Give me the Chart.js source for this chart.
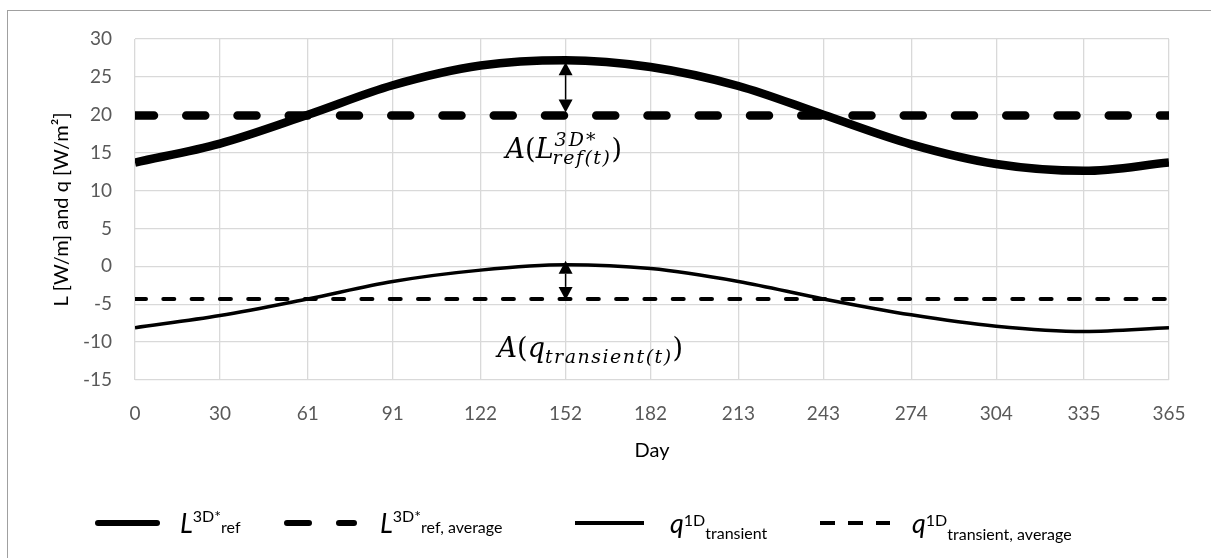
<!DOCTYPE html>
<html>
<head>
<meta charset="utf-8">
<script src="https://cdn.jsdelivr.net/npm/chart.js@4.4.0/dist/chart.umd.min.js"></script>
<style>
    html, body { margin: 0; padding: 0; background: #fff; }
    #wrap { width: 1211px; height: 558px; position: relative; }
</style>
</head>
<body>
<div id="wrap"><canvas id="chart" width="1211" height="558"></canvas></div>
<script>
// values
const days = [0, 30, 61, 91, 122, 152, 182, 213, 243, 274, 304, 335, 365];
const lRef = [13.7, 16.2, 20.0, 23.9, 26.5, 27.2, 26.3, 23.8, 20.0, 16.1, 13.5, 12.6, 13.7];
const qTransient = [-8.1, -6.5, -4.3, -2.0, -0.5, 0.2, -0.3, -2.0, -4.3, -6.4, -7.9, -8.6, -8.1];
const lRefAverage = [19.9, 19.9];
const qTransientAverage = [-4.3, -4.3];
const averageDays = [0, 365];
const amplitudeDay = 152;

const tickFont = { family: 'Lato', size: 19 };
const titleFont = { family: 'Lato', size: 20 };

function toPoints(xs, ys) {
    return xs.map((x, i) => ({ x: x, y: ys[i] }));
}

function drawRich(ctx, x, y, parts) {
    parts.forEach(p => {
        ctx.font = p.font;
        ctx.letterSpacing = p.spacing || '0px';
        ctx.fillText(p.text, x, y + (p.dy || 0));
        x += ctx.measureText(p.text).width;
    });
    ctx.letterSpacing = '0px';
    return x;
}

function drawDoubleArrow(ctx, x, top, bottom) {
    const head = 13, half = 7;
    ctx.save();
    ctx.strokeStyle = '#000';
    ctx.fillStyle = '#000';
    ctx.lineWidth = 1.5;
    ctx.beginPath();
    ctx.moveTo(x, top + head);
    ctx.lineTo(x, bottom - head);
    ctx.stroke();
    ctx.beginPath();
    ctx.moveTo(x, top);
    ctx.lineTo(x - half, top + head);
    ctx.lineTo(x + half, top + head);
    ctx.closePath();
    ctx.fill();
    ctx.beginPath();
    ctx.moveTo(x, bottom);
    ctx.lineTo(x - half, bottom - head);
    ctx.lineTo(x + half, bottom - head);
    ctx.closePath();
    ctx.fill();
    ctx.restore();
}

const extras = {
    id: 'extras',
    beforeDraw(chart) {
        const ctx = chart.ctx;
        ctx.save();
        ctx.strokeStyle = '#a0a0a0';
        ctx.lineWidth = 1;
        ctx.strokeRect(7.5, 10.5, 1300, 700);
        ctx.restore();
    },
    afterDraw(chart) {
        const ctx = chart.ctx;
        const xs = chart.scales.x, ys = chart.scales.y;
        const i = days.indexOf(amplitudeDay);
        const ax = xs.getPixelForValue(amplitudeDay);

        // amplitude arrows
        drawDoubleArrow(ctx, ax, ys.getPixelForValue(lRef[i]) + 2, ys.getPixelForValue(lRefAverage[0]) - 3);
        drawDoubleArrow(ctx, ax, ys.getPixelForValue(qTransient[i]) - 4, ys.getPixelForValue(qTransientAverage[0]) + 1);

        ctx.save();
        ctx.fillStyle = '#000';
        ctx.textBaseline = 'alphabetic';
        const big = 'italic 27px "DejaVu Serif"';
        const small = 'italic 19px "DejaVu Serif"';
        const up = '27px "DejaVu Serif"';
        let ly = ys.getPixelForValue(lRefAverage[0]) + 42;
        let x = drawRich(ctx, ax - 60, ly, [
            { text: 'A', font: big }, { text: '(', font: up }, { text: 'L', font: big }
        ]);
        const sx = x;
        const e1 = drawRich(ctx, sx + 1, ly - 12, [{ text: '3D*', font: small, spacing: '2px' }]);
        const e2 = drawRich(ctx, sx - 1, ly + 6, [{ text: 'ref(t)', font: small, spacing: '1.5px' }]);
        drawRich(ctx, Math.max(e1, e2), ly, [{ text: ')', font: up }]);

        let qy = ys.getPixelForValue(qTransientAverage[0]) + 58;
        x = drawRich(ctx, ax - 68, qy, [
            { text: 'A', font: big }, { text: '(', font: up }, { text: 'q', font: big },
            { text: 'transient(t)', font: small, dy: 6, spacing: '1.5px' }
        ]);
        drawRich(ctx, x, qy, [{ text: ')', font: up }]);
        ctx.restore();

        // legend
        ctx.save();
        ctx.strokeStyle = '#000';
        ctx.fillStyle = '#000';
        const ly2 = 523;
        const sample = (x1, x2, w, dash, cap) => {
            ctx.lineWidth = w;
            ctx.lineCap = cap;
            ctx.setLineDash(dash);
            ctx.beginPath();
            ctx.moveTo(x1, ly2);
            ctx.lineTo(x2, ly2);
            ctx.stroke();
        };
        sample(98, 157, 6, [], 'round');
        sample(287, 354, 6, [22, 30], 'round');
        sample(575, 644, 4, [], 'butt');
        sample(820, 890, 4, [15, 13], 'butt');
        ctx.setLineDash([]);

        const letter = 'italic 27px Lato';
        const tiny = '16px Lato';
        const base = 533;
        drawRich(ctx, 180, base, [
            { text: 'L', font: letter }, { text: '3D*', font: tiny, dy: -11 }, { text: 'ref', font: tiny }
        ]);
        drawRich(ctx, 380, base, [
            { text: 'L', font: letter }, { text: '3D*', font: tiny, dy: -11 }, { text: 'ref, average', font: tiny }
        ]);
        drawRich(ctx, 670, base, [
            { text: 'q', font: letter }, { text: '1D', font: tiny, dy: -7 }, { text: 'transient', font: tiny, dy: 6 }
        ]);
        drawRich(ctx, 912, base, [
            { text: 'q', font: letter }, { text: '1D', font: tiny, dy: -7 }, { text: 'transient, average', font: tiny, dy: 7 }
        ]);
        ctx.restore();
    }
};

const ctx = document.getElementById('chart').getContext('2d');
const chart = new Chart(ctx, {
    type: 'line',
    data: {
        datasets: [{
            label: 'L3D* ref',
            data: toPoints(days, lRef),
            borderColor: '#000',
            borderWidth: 8.5,
            cubicInterpolationMode: 'monotone',
            pointRadius: 0
        }, {
            label: 'L3D* ref, average',
            data: toPoints(averageDays, lRefAverage),
            borderColor: '#000',
            borderWidth: 8.5,
            borderDash: [19, 32.25],
            borderCapStyle: 'round',
            pointRadius: 0
        }, {
            label: 'q1D transient',
            data: toPoints(days, qTransient),
            borderColor: '#000',
            borderWidth: 3.5,
            cubicInterpolationMode: 'monotone',
            pointRadius: 0
        }, {
            label: 'q1D transient, average',
            data: toPoints(averageDays, qTransientAverage),
            borderColor: '#000',
            borderWidth: 4,
            borderDash: [11, 17.3],
            borderCapStyle: 'round',
            pointRadius: 0
        }]
    },
    options: {
        responsive: false,
        animation: false,
        events: [],
        layout: { padding: { left: 0, right: 42, top: 39, bottom: 83 } },
        plugins: {
            legend: { display: false },
            tooltip: { enabled: false }
        },
        scales: {
            x: {
                type: 'linear',
                min: 0,
                max: 365,
                afterBuildTicks: scale => {
                    scale.ticks = days.map(d => ({ value: d }));
                },
                afterFit: scale => { scale.height = 95; },
                ticks: { color: '#595959', font: tickFont, padding: 22, maxRotation: 0, autoSkip: false },
                grid: { color: '#d9d9d9', lineWidth: 1.3, drawTicks: false },
                border: { display: false },
                title: { display: true, text: 'Day', color: '#000', font: titleFont, padding: { top: 0, bottom: 12 } }
            },
            y: {
                min: -15,
                max: 30,
                afterFit: scale => { scale.width = 135; },
                ticks: { stepSize: 5, color: '#595959', font: tickFont, padding: 23 },
                grid: { color: '#d9d9d9', lineWidth: 1.3, drawTicks: false },
                border: { display: false },
                title: { display: true, text: 'L [W/m] and q [W/m²]', color: '#000', font: titleFont, padding: { top: 50, bottom: 0 } }
            }
        }
    },
    plugins: [extras]
});
</script>
</body>
</html>
